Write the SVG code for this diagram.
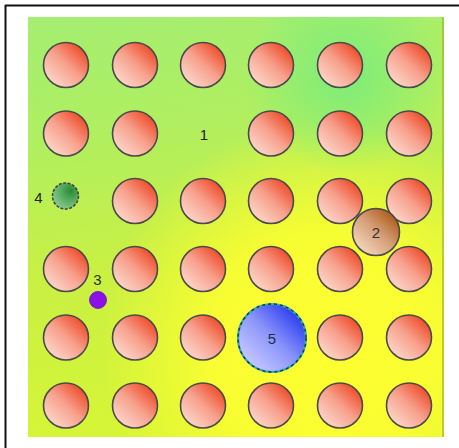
<svg xmlns="http://www.w3.org/2000/svg" width="459" height="448" viewBox="0 0 459 448">
  <defs>
    <linearGradient id="bg" x1="0" y1="0" x2="0.15" y2="1">
      <stop offset="0" stop-color="#a4ee72"/>
      <stop offset="0.3" stop-color="#b0ef60"/>
      <stop offset="0.6" stop-color="#c8f044"/>
      <stop offset="1" stop-color="#d6f536"/>
    </linearGradient>
    <radialGradient id="yel" gradientUnits="userSpaceOnUse" cx="325" cy="345" r="225">
      <stop offset="0" stop-color="#ffff30" stop-opacity="1"/>
      <stop offset="0.5" stop-color="#ffff30" stop-opacity="0.85"/>
      <stop offset="1" stop-color="#ffff30" stop-opacity="0"/>
    </radialGradient>
    <radialGradient id="grn" gradientUnits="userSpaceOnUse" cx="345" cy="75" r="100">
      <stop offset="0" stop-color="#72ec7e" stop-opacity="0.85"/>
      <stop offset="1" stop-color="#72ec7e" stop-opacity="0"/>
    </radialGradient>
    <linearGradient id="red" x1="0.2" y1="0.85" x2="0.85" y2="0.15">
      <stop offset="0" stop-color="#fbd0c2"/>
      <stop offset="0.5" stop-color="#f7a08c"/>
      <stop offset="1" stop-color="#f0502f"/>
    </linearGradient>
    <linearGradient id="brown" x1="0.2" y1="0.85" x2="0.85" y2="0.15">
      <stop offset="0" stop-color="#f0d0b6"/>
      <stop offset="0.5" stop-color="#d6a07a"/>
      <stop offset="1" stop-color="#b0601e"/>
    </linearGradient>
    <linearGradient id="blue" x1="0.15" y1="0.85" x2="0.85" y2="0.15">
      <stop offset="0" stop-color="#c4c6ff"/>
      <stop offset="0.5" stop-color="#8c96fb"/>
      <stop offset="1" stop-color="#3040f0"/>
    </linearGradient>
    <radialGradient id="green" cx="0.7" cy="0.3" r="0.9">
      <stop offset="0" stop-color="#2a8a36"/>
      <stop offset="1" stop-color="#98d89a"/>
    </radialGradient>
    <style>
      .pin { fill: url(#red); stroke: #4a4a4a; stroke-width: 1.6; }
      .lbl { font-family: "Liberation Sans", Arial, sans-serif; font-size: 15px; text-anchor: middle; fill: #222; }
    </style>
  </defs>

  <!-- frame -->
  <rect x="0" y="0" width="459" height="448" fill="#ffffff"/>
  <line x1="5" y1="5.5" x2="459" y2="5.5" stroke="#111" stroke-width="2"/>
  <line x1="5.5" y1="5" x2="5.5" y2="448" stroke="#111" stroke-width="2"/>

  <!-- field background -->
  <g id="field">
    <rect x="28" y="17" width="416" height="420" fill="url(#bg)"/>
    <rect x="28" y="17" width="416" height="420" fill="url(#yel)"/>
    <rect x="28" y="17" width="416" height="420" fill="url(#grn)"/>
    <rect x="442" y="17" width="2" height="420" fill="#9cb020" opacity="0.6"/>
  </g>

  <!-- grid of red circles -->
  <g id="pins">
    <circle class="pin" cx="66" cy="65" r="22.5"/>
    <circle class="pin" cx="135" cy="65" r="22.5"/>
    <circle class="pin" cx="203" cy="65" r="22.5"/>
    <circle class="pin" cx="271" cy="65" r="22.5"/>
    <circle class="pin" cx="340" cy="65" r="22.5"/>
    <circle class="pin" cx="409" cy="65" r="22.5"/>

    <circle class="pin" cx="66" cy="133.5" r="22.5"/>
    <circle class="pin" cx="135" cy="133.5" r="22.5"/>
    <circle class="pin" cx="271" cy="133.5" r="22.5"/>
    <circle class="pin" cx="340" cy="133.5" r="22.5"/>
    <circle class="pin" cx="409" cy="133.5" r="22.5"/>

    <circle class="pin" cx="135" cy="201" r="22.5"/>
    <circle class="pin" cx="203" cy="201" r="22.5"/>
    <circle class="pin" cx="271" cy="201" r="22.5"/>
    <circle class="pin" cx="340" cy="201" r="22.5"/>
    <circle class="pin" cx="409" cy="201" r="22.5"/>

    <circle class="pin" cx="66" cy="269" r="22.5"/>
    <circle class="pin" cx="135" cy="269" r="22.5"/>
    <circle class="pin" cx="203" cy="269" r="22.5"/>
    <circle class="pin" cx="271" cy="269" r="22.5"/>
    <circle class="pin" cx="340" cy="269" r="22.5"/>
    <circle class="pin" cx="409" cy="269" r="22.5"/>

    <circle class="pin" cx="66" cy="337.5" r="22.5"/>
    <circle class="pin" cx="135" cy="337.5" r="22.5"/>
    <circle class="pin" cx="203" cy="337.5" r="22.5"/>
    <circle class="pin" cx="340" cy="337.5" r="22.5"/>
    <circle class="pin" cx="409" cy="337.5" r="22.5"/>

    <circle class="pin" cx="66" cy="405.5" r="22.5"/>
    <circle class="pin" cx="135" cy="405.5" r="22.5"/>
    <circle class="pin" cx="203" cy="405.5" r="22.5"/>
    <circle class="pin" cx="271" cy="405.5" r="22.5"/>
    <circle class="pin" cx="340" cy="405.5" r="22.5"/>
    <circle class="pin" cx="409" cy="405.5" r="22.5"/>
  </g>

  <g id="node1">
    <text class="lbl" x="204" y="140">1</text>
  </g>

  <g id="node2">
    <circle cx="376" cy="232" r="23.5" fill="url(#brown)" stroke="#4a4a4a" stroke-width="1.6"/>
    <text class="lbl" x="376" y="238" style="fill:#333">2</text>
  </g>

  <g id="node3">
    <circle cx="98" cy="300" r="8.5" fill="#8a12e6" stroke="#6a10b0" stroke-width="0.8"/>
    <text class="lbl" x="97.5" y="285" style="fill:#2a3610">3</text>
  </g>

  <g id="node4">
    <circle cx="65.5" cy="196" r="13" fill="url(#green)" stroke="#444" stroke-width="1.6" stroke-dasharray="3 1.5"/>
    <text class="lbl" x="38.5" y="203">4</text>
  </g>

  <g id="node5">
    <circle cx="272" cy="338" r="34" fill="url(#blue)" stroke="#30a8c0" stroke-width="2.2"/>
    <circle cx="272" cy="338" r="34" fill="none" stroke="#23323a" stroke-width="1.4" stroke-dasharray="3 3"/>
    <text class="lbl" x="272" y="344" style="fill:#1e2a50">5</text>
  </g>
</svg>
